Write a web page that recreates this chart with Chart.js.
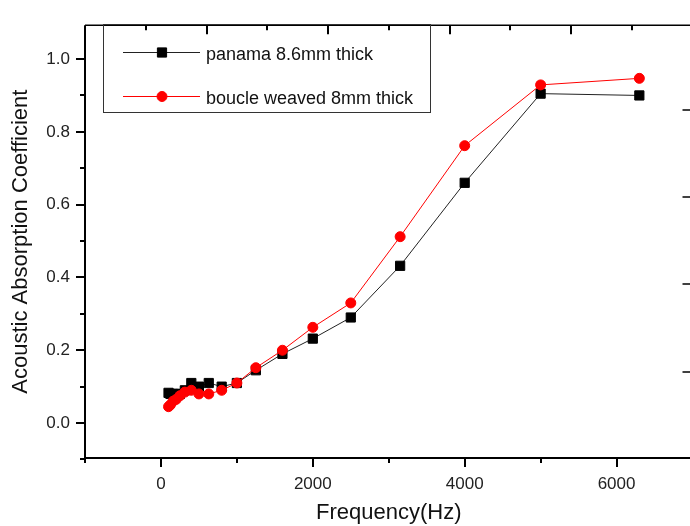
<!DOCTYPE html>
<html>
<head>
<meta charset="utf-8">
<script src="https://cdn.jsdelivr.net/npm/chart.js@4.4.1/dist/chart.umd.min.js"></script>
<style>
  html, body { margin: 0; padding: 0; background: #fff; overflow: hidden; }
  #wrap { width: 700px; height: 526px; }
</style>
</head>
<body>
<div id="wrap"><canvas id="chart" width="700" height="526"></canvas></div>
<script>
// 1/3 octave band centre frequencies (Hz)
const frequencies = [100, 125, 160, 200, 250, 315, 400, 500, 630, 800, 1000, 1250, 1600, 2000, 2500, 3150, 4000, 5000, 6300];
const panama = [0.083, 0.08, 0.08, 0.08, 0.08, 0.09, 0.11, 0.10, 0.11, 0.10, 0.11, 0.145, 0.19, 0.232, 0.29, 0.432, 0.66, 0.905, 0.90];
const boucle = [0.045, 0.05, 0.06, 0.065, 0.075, 0.085, 0.09, 0.08, 0.08, 0.09, 0.11, 0.152, 0.20, 0.263, 0.33, 0.512, 0.762, 0.929, 0.947];

const seriesNames = ['panama 8.6mm thick', 'boucle weaved 8mm thick'];

const xTickLabels = [0, 2000, 4000, 6000];
const xMinorTicks = [-1000, 1000, 3000, 5000, 7000];
const yTickLabels = [0, 0.2, 0.4, 0.6, 0.8, 1.0];
const yMinorTicks = [-0.1, 0.1, 0.3, 0.5, 0.7, 0.9];
// the top and right axes of the original carry their own tick spacing
const topMajorTicks = [600, 2200, 3800, 5400];
const topMinorTicks = [-200, 1400, 3000, 4600, 6200];
const rightTicks = [0.141, 0.381, 0.621, 0.861];

const FONT = '"Liberation Sans", Arial, sans-serif';

const toPoints = vals => vals.map((v, i) => ({ x: frequencies[i], y: v }));

// frame and tick marks, drawn through the chart's scales
const frameTicks = {
    id: 'frameTicks',
    afterDraw(chart) {
        const { ctx, chartArea: a, scales: { x, y } } = chart;
        ctx.save();
        ctx.strokeStyle = '#000';
        ctx.lineCap = 'butt';

        ctx.lineWidth = 2;
        ctx.beginPath();
        ctx.moveTo(a.left, a.top);
        ctx.lineTo(a.left, a.bottom);
        ctx.lineTo(a.right, a.bottom);
        ctx.stroke();
        ctx.lineWidth = 1.5;
        ctx.beginPath();
        ctx.moveTo(a.left, a.top);
        ctx.lineTo(a.right, a.top);
        ctx.lineTo(a.right, a.bottom);
        ctx.stroke();

        ctx.lineWidth = 2;
        const vTick = (px, y0, len) => {
            ctx.beginPath(); ctx.moveTo(Math.round(px), y0); ctx.lineTo(Math.round(px), y0 + len); ctx.stroke();
        };
        const hTick = (py, x0, len) => {
            ctx.beginPath(); ctx.moveTo(x0, Math.round(py)); ctx.lineTo(x0 + len, Math.round(py)); ctx.stroke();
        };
        xTickLabels.forEach(v => vTick(x.getPixelForValue(v), a.bottom, 9));
        xMinorTicks.forEach(v => vTick(x.getPixelForValue(v), a.bottom, 5));
        yTickLabels.forEach(v => hTick(y.getPixelForValue(v), a.left, -9));
        yMinorTicks.forEach(v => hTick(y.getPixelForValue(v), a.left, -5));
        topMajorTicks.forEach(v => vTick(x.getPixelForValue(v), a.top, 9));
        topMinorTicks.forEach(v => vTick(x.getPixelForValue(v), a.top, 5));
        ctx.lineWidth = 1.5;
        rightTicks.forEach(v => hTick(y.getPixelForValue(v), a.right, -10));
        ctx.restore();
    }
};

// boxed legend inside the plot, top left
const boxLegend = {
    id: 'boxLegend',
    afterDraw(chart) {
        const { ctx } = chart;
        ctx.save();
        ctx.strokeStyle = '#333';
        ctx.lineWidth = 1;
        ctx.strokeRect(103.5, 24.5, 327, 88);
        const rows = [52, 96];
        chart.data.datasets.forEach((ds, i) => {
            const yy = rows[i];
            ctx.strokeStyle = ds.borderColor;
            ctx.lineWidth = 1;
            ctx.beginPath();
            ctx.moveTo(123, yy + 0.5);
            ctx.lineTo(200, yy + 0.5);
            ctx.stroke();
            ctx.fillStyle = ds.pointBackgroundColor;
            ctx.strokeStyle = ds.pointBorderColor;
            Chart.helpers.drawPoint(ctx, {
                pointStyle: ds.pointStyle,
                radius: ds.pointRadius,
                borderWidth: 1
            }, 162, yy + 0.5);
            ctx.fillStyle = '#111';
            ctx.font = '18px ' + FONT;
            ctx.textBaseline = 'middle';
            ctx.fillText(ds.label, 206, yy + 3);
        });
        ctx.restore();
    }
};

new Chart(document.getElementById('chart'), {
    type: 'line',
    data: {
        datasets: [
            {
                label: seriesNames[0],
                data: toPoints(panama),
                borderColor: '#222',
                borderWidth: 1,
                pointStyle: 'rect',
                pointRadius: 6.5,
                pointBackgroundColor: '#000',
                pointBorderColor: '#000',
                pointBorderWidth: 1,
                order: 2
            },
            {
                label: seriesNames[1],
                data: toPoints(boucle),
                borderColor: '#ff0000',
                borderWidth: 1,
                pointStyle: 'circle',
                pointRadius: 5,
                pointBackgroundColor: '#ff0000',
                pointBorderColor: '#ff0000',
                pointBorderWidth: 1,
                order: 1
            }
        ]
    },
    options: {
        responsive: false,
        animation: false,
        layout: { padding: { top: 11, right: 1, left: 0, bottom: 0 } },
        plugins: {
            legend: { display: false },
            tooltip: { enabled: false }
        },
        scales: {
            x: {
                type: 'linear',
                min: -1000,
                max: 7000,
                grid: { display: false, drawTicks: false },
                border: { display: false },
                afterFit: s => { s.height = 68; },
                afterBuildTicks: s => { s.ticks = xTickLabels.map(v => ({ value: v })); },
                ticks: {
                    padding: 16,
                    color: '#222',
                    font: { family: FONT, size: 17 },
                    maxRotation: 0,
                    callback: v => String(v)
                },
                title: {
                    display: true,
                    text: 'Frequency(Hz)',
                    color: '#111',
                    font: { family: FONT, size: 22 },
                    padding: { top: 0, bottom: 0 }
                }
            },
            y: {
                min: -0.096,
                max: 1.093,
                grid: { display: false, drawTicks: false },
                border: { display: false },
                afterFit: s => { s.width = 85; },
                afterBuildTicks: s => { s.ticks = yTickLabels.map(v => ({ value: v })); },
                ticks: {
                    padding: 15,
                    color: '#222',
                    font: { family: FONT, size: 17 },
                    callback: v => Number(v).toFixed(1)
                },
                title: {
                    display: true,
                    text: 'Acoustic Absorption Coefficient',
                    color: '#111',
                    font: { family: FONT, size: 22 },
                    padding: { top: 8, bottom: 0 }
                }
            }
        }
    },
    plugins: [frameTicks, boxLegend]
});
</script>
</body>
</html>
